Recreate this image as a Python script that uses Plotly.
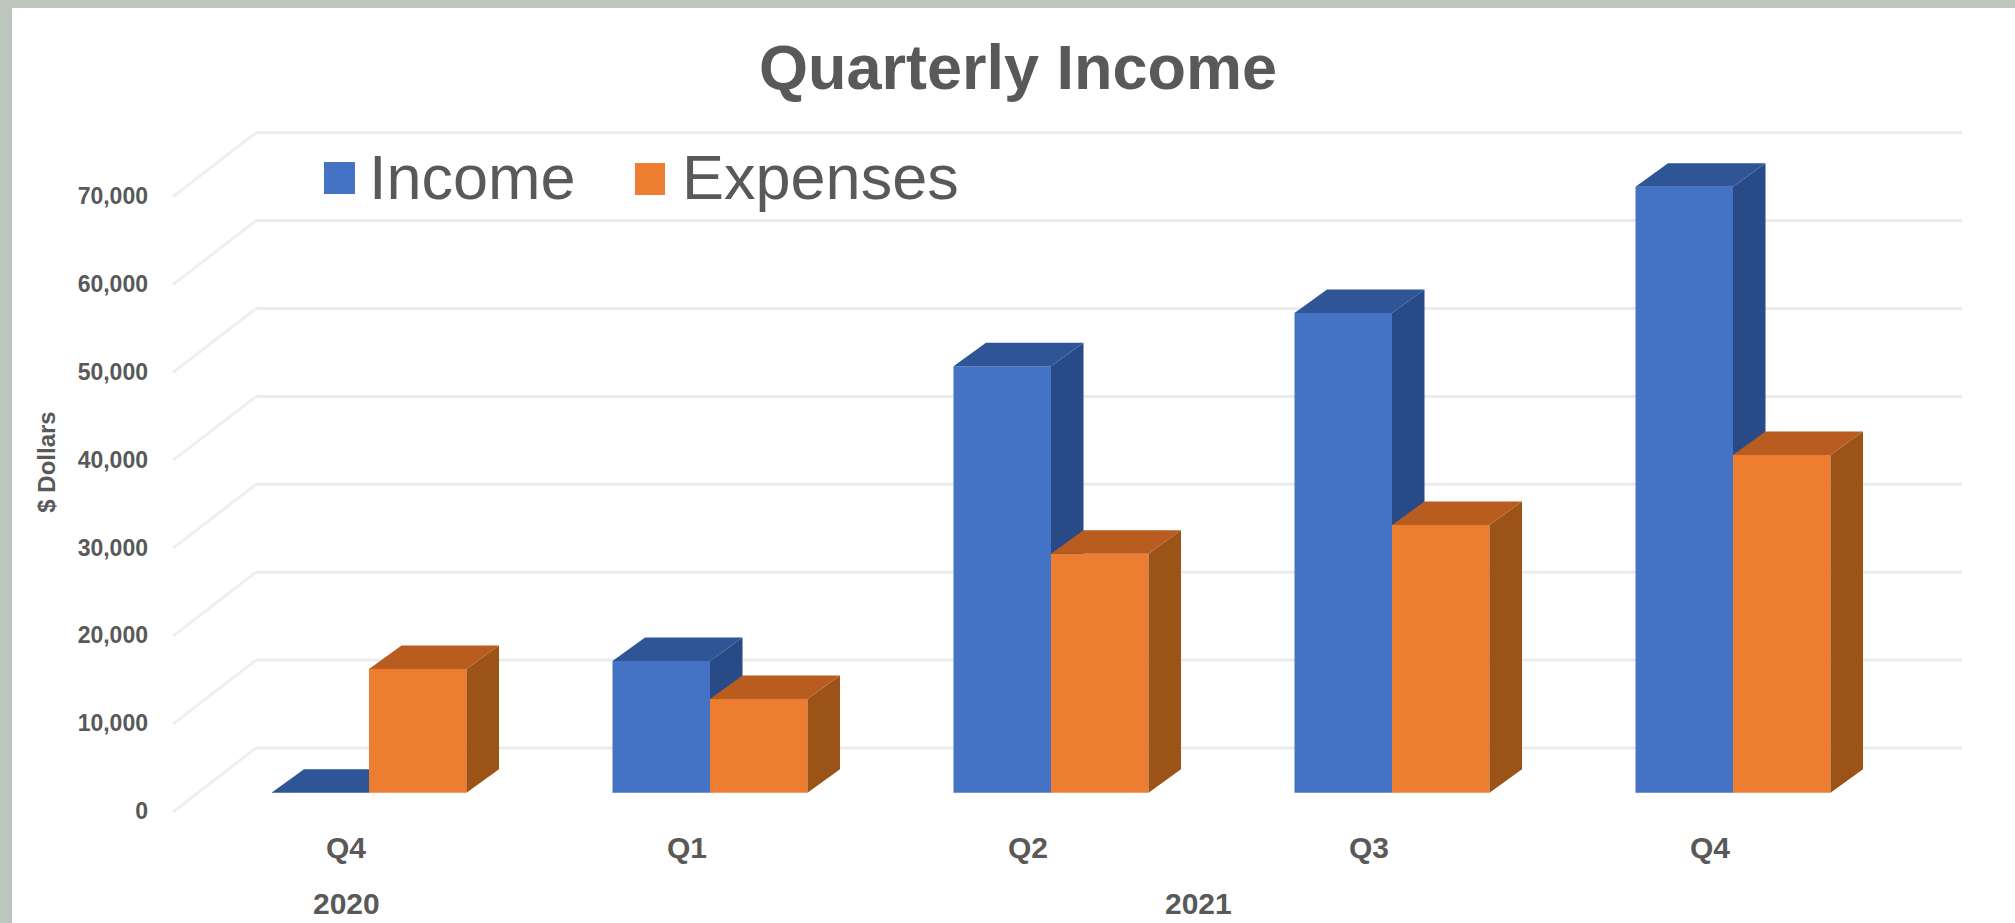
import plotly.graph_objects as go

# Chart data
quarters = ["Q4", "Q1", "Q2", "Q3", "Q4"]
year_labels = ["2020", "2021"]
income = [0, 14980, 48520, 54570, 68940]
expenses = [14070, 10660, 27180, 30450, 38420]
y_ticks = [0, 10000, 20000, 30000, 40000, 50000, 60000, 70000]
y_tick_labels = ["0", "10,000", "20,000", "30,000", "40,000", "50,000", "60,000", "70,000"]

# Page and plot-area geometry
W, H = 2015, 923
L, R, T, B = 149, 2015, 97, 827
BASE_PX, PX_PER_UNIT = 792.7, 87.9 / 10000
CENTER0_PX, STEP_PX = 369.0, 341.0


def xu(px):
    return (px - CENTER0_PX) / STEP_PX


def yu(px):
    return (BASE_PX - px) / PX_PER_UNIT


def xp(px):
    return (px - L) / (R - L)


def yp(px):
    return (B - px) / (B - T)


BAR_W = 97.5 / STEP_PX
DEPTH_X = 32.5 / STEP_PX
DEPTH_Y = 23.5 / PX_PER_UNIT
WALL_LIFT = 44.7 / PX_PER_UNIT
WALL_X0, WALL_X1 = xu(256), xu(1962)
FLOOR_X0 = xu(173)
FLOOR_DROP = 64 / PX_PER_UNIT
LABEL_DROP = 2100
LABEL_SHIFT = 23 / STEP_PX

GRAY = "#595959"
FONT = "Liberation Sans"
COLORS = {
    "Income": ("#4472C4", "#2F5597", "#284B88"),
    "Expenses": ("#ED7D31", "#B85D1F", "#9C5317"),
}

fig = go.Figure()


def add_series(name, values, side, xaxis, yaxis):
    front, top, flank = COLORS[name]
    centers = [i + side * BAR_W / 2 for i in range(len(values))]
    # Flank and top faces go first, then the front faces on the same axes
    for c, v in zip(centers, values):
        x0, x1 = c - BAR_W / 2, c + BAR_W / 2
        fig.add_trace(go.Scatter(
            x=[x1, x1 + DEPTH_X, x1 + DEPTH_X, x1, x1],
            y=[0, DEPTH_Y, v + DEPTH_Y, v, 0],
            mode="lines", fill="toself", fillcolor=flank, line=dict(width=0),
            xaxis=xaxis, yaxis=yaxis, showlegend=False, hoverinfo="skip"))
        fig.add_trace(go.Scatter(
            x=[x0, x1, x1 + DEPTH_X, x0 + DEPTH_X, x0],
            y=[v, v, v + DEPTH_Y, v + DEPTH_Y, v],
            mode="lines", fill="toself", fillcolor=top, line=dict(width=0),
            xaxis=xaxis, yaxis=yaxis, showlegend=False, hoverinfo="skip"))
    fig.add_trace(go.Bar(
        x=centers, y=values, width=BAR_W, name=name, marker=dict(color=front, line=dict(width=0)),
        xaxis=xaxis, yaxis=yaxis, showlegend=False))


# Expenses live on an overlaid pair of axes so they cover the income flanks
add_series("Income", income, -1, "x", "y")
add_series("Expenses", expenses, 1, "x2", "y2")

shapes = [dict(type="rect", xref="paper", yref="paper", layer="below",
               x0=xp(12), x1=xp(W), y0=yp(H), y1=yp(8),
               fillcolor="#FFFFFF", line=dict(width=0))]

# Back-wall gridlines and the floor diagonals leading to them
for v in y_ticks:
    wall_y = v + WALL_LIFT
    shapes.append(dict(type="line", layer="below", xref="x", yref="y",
                       x0=WALL_X0, x1=WALL_X1, y0=wall_y, y1=wall_y,
                       line=dict(color="#EBEBEB", width=3)))
    shapes.append(dict(type="line", layer="below", xref="x", yref="y",
                       x0=FLOOR_X0, x1=WALL_X0, y0=wall_y - FLOOR_DROP, y1=wall_y,
                       line=dict(color="#EFEFEF", width=3)))

# Legend swatches
shapes.append(dict(type="rect", xref="paper", yref="paper", x0=xp(324), x1=xp(355),
                   y0=yp(194), y1=yp(162), fillcolor=COLORS["Income"][0], line=dict(width=0)))
shapes.append(dict(type="rect", xref="paper", yref="paper", x0=xp(635), x1=xp(665),
                   y0=yp(195), y1=yp(163), fillcolor=COLORS["Expenses"][0], line=dict(width=0)))

annotations = [
    dict(text="Income", xref="paper", yref="paper", x=xp(367), y=yp(177),
         xanchor="left", yanchor="middle", showarrow=False,
         font=dict(family=FONT, size=63, color=GRAY)),
    dict(text="Expenses", xref="paper", yref="paper", x=xp(680), y=yp(177),
         xanchor="left", yanchor="middle", showarrow=False,
         font=dict(family=FONT, size=63, color=GRAY)),
    dict(text=f"<b>{year_labels[0]}</b>", xref="x", yref="paper", x=0 - LABEL_SHIFT, y=yp(903),
         xanchor="center", yanchor="middle", showarrow=False,
         font=dict(family=FONT, size=30, color=GRAY)),
    dict(text=f"<b>{year_labels[1]}</b>", xref="x", yref="paper", x=2.5 - LABEL_SHIFT, y=yp(903),
         xanchor="center", yanchor="middle", showarrow=False,
         font=dict(family=FONT, size=30, color=GRAY)),
]

x_range = [xu(L), xu(R)]
y_range = [yu(B), yu(T)]

fig.update_layout(
    width=W, height=H, autosize=False,
    margin=dict(l=L, r=W - R, t=T, b=H - B, pad=0),
    paper_bgcolor="#BCC6BD", plot_bgcolor="rgba(0,0,0,0)",
    barmode="overlay", showlegend=False,
    title=dict(text="<b>Quarterly Income</b>", xref="paper", yref="container",
               x=xp(1018), xanchor="center", y=1 - 67 / H, yanchor="middle",
               font=dict(family=FONT, size=63, color=GRAY)),
    xaxis=dict(range=x_range, showgrid=False, zeroline=False, showline=False, ticks="",
               tickmode="array", tickvals=[i - LABEL_SHIFT for i in range(len(quarters))],
               ticktext=[f"<b>{q}</b>" for q in quarters],
               tickfont=dict(family=FONT, size=30, color=GRAY)),
    yaxis=dict(range=y_range, showgrid=False, zeroline=False, showline=False, ticks="",
               tickmode="array", tickvals=[v - LABEL_DROP for v in y_ticks],
               ticktext=[f"<b>{t}</b>" for t in y_tick_labels],
               tickfont=dict(family=FONT, size=23, color=GRAY),
               title=dict(text="<b>$ Dollars</b>", font=dict(family=FONT, size=24, color=GRAY))),
    xaxis2=dict(range=x_range, overlaying="x", visible=False),
    yaxis2=dict(range=y_range, overlaying="y", visible=False),
    shapes=shapes, annotations=annotations,
)

fig.write_html("out.html", config=dict(displayModeBar=False))
